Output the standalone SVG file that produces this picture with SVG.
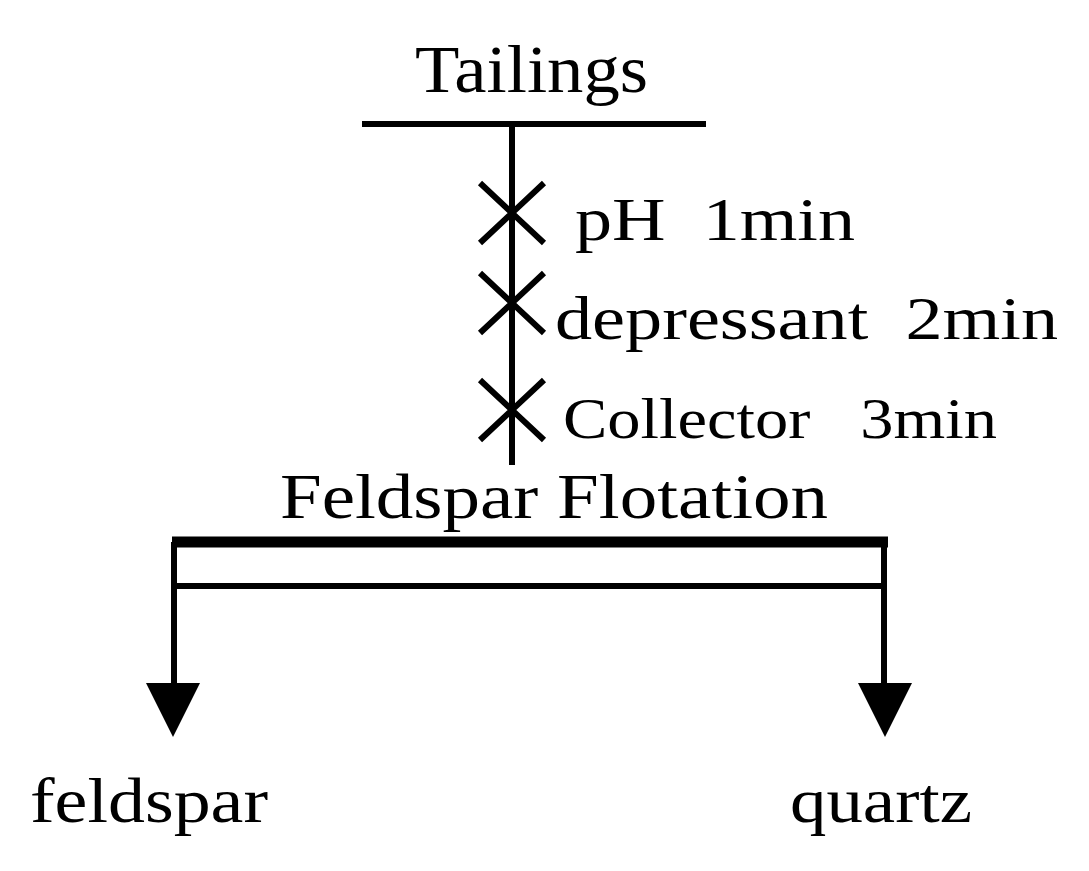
<svg xmlns="http://www.w3.org/2000/svg" width="1089" height="871" viewBox="0 0 1089 871">
<style>
text{font-family:"Liberation Serif","Times New Roman",serif;fill:#000}
.l{stroke:#000;stroke-width:6;fill:none}
</style>
<rect width="1089" height="871" fill="#fff"/>
<g id="connectors">
<line class="l" x1="362" y1="124" x2="706" y2="124"/>
<line class="l" x1="512" y1="124" x2="512" y2="465"/>
<path class="l" d="M480 183L544 243M544 183L480 243M480 273L544 333M544 273L480 333M480 380L544 440M544 380L480 440"/>
<line x1="172" y1="542" x2="888" y2="542" stroke="#000" stroke-width="11"/>
<line class="l" x1="172" y1="586" x2="886" y2="586"/>
<line class="l" x1="174" y1="542" x2="174" y2="690"/>
<line class="l" x1="884" y1="542" x2="884" y2="690"/>
<polygon points="146,683 200,683 173,737"/>
<polygon points="858,683 912,683 885,737"/>
</g>
<g id="tailings"><text x="415" y="92" font-size="68" textLength="233" lengthAdjust="spacingAndGlyphs">Tailings</text></g>
<g id="reagents">
<text x="575" y="240" font-size="62" xml:space="preserve" textLength="280" lengthAdjust="spacingAndGlyphs">pH  1min</text>
<text x="555" y="339" font-size="62" xml:space="preserve" textLength="503" lengthAdjust="spacingAndGlyphs">depressant  2min</text>
<text x="563" y="438" font-size="58" xml:space="preserve" textLength="434" lengthAdjust="spacingAndGlyphs">Collector   3min</text>
</g>
<g id="flotation"><text x="280" y="518" font-size="64" textLength="548" lengthAdjust="spacingAndGlyphs">Feldspar Flotation</text></g>
<g id="feldspar"><text x="30" y="822" font-size="64" textLength="238" lengthAdjust="spacingAndGlyphs">feldspar</text></g>
<g id="quartz"><text x="790" y="822" font-size="64" textLength="182" lengthAdjust="spacingAndGlyphs">quartz</text></g>
</svg>
